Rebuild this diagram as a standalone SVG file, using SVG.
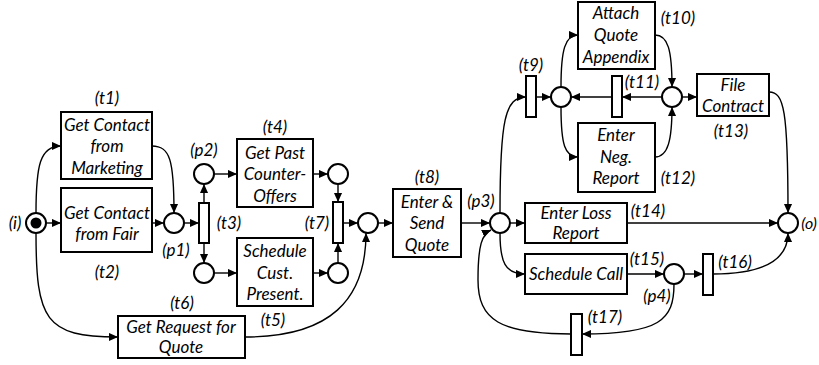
<svg xmlns="http://www.w3.org/2000/svg" width="819" height="365" viewBox="0 0 819 365">
<style>
.box{fill:#fff;stroke:#000;stroke-width:2}
.bar{fill:#fff;stroke:#000;stroke-width:2}
.pl{fill:#fff;stroke:#000;stroke-width:2}
.c{fill:none;stroke:#000;stroke-width:1.4;marker-end:url(#ah)}
text{font-family:Lato,"Open Sans","Liberation Sans",sans-serif;font-style:italic;font-size:17px;fill:#000;text-anchor:middle}
</style>
<defs>
<marker id="ah" viewBox="0 0 10 10" refX="10" refY="5" markerWidth="9" markerHeight="9" markerUnits="userSpaceOnUse" orient="auto">
<path d="M0,0.5 L10,5 L0,9.5 z" fill="#000"/>
</marker>
</defs>
<rect width="819" height="365" fill="#fff"/>
<g id="connectors">
<path class="c" d="M36,213 C36,165 40,146 61,146"/>
<path class="c" d="M46,223 L61,223"/>
<path class="c" d="M36,233 C36,320 45,337 118,337"/>
<path class="c" d="M152,146 C170,146 174,160 174,213"/>
<path class="c" d="M152,223 L164,223"/>
<path class="c" d="M184,223 L199,223"/>
<path class="c" d="M204,203 L204,184"/>
<path class="c" d="M204,243 L204,263"/>
<path class="c" d="M214,174 L237,174"/>
<path class="c" d="M214,273 L237,273"/>
<path class="c" d="M313,174 L328,174"/>
<path class="c" d="M313,273 L328,273"/>
<path class="c" d="M338,184 L338,202"/>
<path class="c" d="M338,263 L338,243"/>
<path class="c" d="M343,223 L358,223"/>
<path class="c" d="M245,337 C330,337 366,300 366,233"/>
<path class="c" d="M378,223 L393,223"/>
<path class="c" d="M461,223 L490,223"/>
<path class="c" d="M510,223 L525,223"/>
<path class="c" d="M500,213 C500,120 505,97 526,97"/>
<path class="c" d="M500,233 C500,262 505,274 525,274"/>
<path class="c" d="M536,97 L551,97"/>
<path class="c" d="M561,87 C561,50 565,35 578,35"/>
<path class="c" d="M561,107 C561,145 565,157 578,157"/>
<path class="c" d="M655,35 C668,35 672,50 672,87"/>
<path class="c" d="M655,157 C668,157 672,140 672,107"/>
<path class="c" d="M662,97 L622,97"/>
<path class="c" d="M612,97 L571,97"/>
<path class="c" d="M682,97 L697,97"/>
<path class="c" d="M769,92 C784,92 788,110 788,213"/>
<path class="c" d="M627,223 L778,223"/>
<path class="c" d="M627,274 L664,274"/>
<path class="c" d="M684,274 L703,274"/>
<path class="c" d="M713,274 C760,274 788,262 788,233"/>
<path class="c" d="M674,284 C674,320 660,334 582,334"/>
<path class="c" d="M571,334 C500,334 478,320 478,280 C478,245 482,234 491,230"/>
</g>
<g id="i"><circle class="pl" cx="36" cy="223" r="10" stroke-width="2.5"/><circle cx="36" cy="223" r="5.5" fill="#000"/><text x="15" y="229">(i)</text></g>
<g id="t1"><rect class="box" x="61" y="112" width="91" height="67"/><text x="107" y="104">(t1)</text><text x="107" y="131">Get Contact</text><text x="107" y="152">from</text><text x="107" y="174">Marketing</text></g>
<g id="t2"><rect class="box" x="61" y="188" width="91" height="64"/><text x="107" y="278">(t2)</text><text x="107" y="219">Get Contact</text><text x="107" y="240">from Fair</text></g>
<g id="p1"><circle class="pl" cx="174" cy="223" r="10"/><text x="176" y="256">(p1)</text></g>
<g id="t3"><rect class="bar" x="199" y="203" width="10" height="40"/><text x="229" y="229">(t3)</text></g>
<g id="p2"><circle class="pl" cx="204" cy="174" r="10"/><text x="204" y="156">(p2)</text></g>
<g id="p_t5in"><circle class="pl" cx="204" cy="273" r="10"/></g>
<g id="t4"><rect class="box" x="237" y="139" width="76" height="68"/><text x="275" y="133">(t4)</text><text x="275" y="159">Get Past</text><text x="275" y="180">Counter-</text><text x="275" y="202">Offers</text></g>
<g id="t5"><rect class="box" x="237" y="238" width="76" height="68"/><text x="273" y="326">(t5)</text><text x="275" y="257">Schedule</text><text x="275" y="279">Cust.</text><text x="275" y="300">Present.</text></g>
<g id="p_t4out"><circle class="pl" cx="338" cy="174" r="10"/></g>
<g id="p_t5out"><circle class="pl" cx="338" cy="273" r="10"/></g>
<g id="t7"><rect class="bar" x="333" y="202" width="10" height="41"/><text x="317" y="229">(t7)</text></g>
<g id="p_t8in"><circle class="pl" cx="368" cy="223" r="10"/></g>
<g id="t6"><rect class="box" x="118" y="316" width="127" height="42"/><text x="182" y="309">(t6)</text><text x="181" y="333">Get Request for</text><text x="181" y="353">Quote</text></g>
<g id="t8"><rect class="box" x="393" y="189" width="68" height="68"/><text x="427" y="183">(t8)</text><text x="427" y="208">Enter &amp;</text><text x="427" y="229">Send</text><text x="427" y="251">Quote</text></g>
<g id="p3"><circle class="pl" cx="500" cy="223" r="10"/><text x="481" y="207">(p3)</text></g>
<g id="t9"><rect class="bar" x="526" y="76" width="10" height="41"/><text x="531" y="71">(t9)</text></g>
<g id="p_t9out"><circle class="pl" cx="561" cy="97" r="10"/></g>
<g id="t10"><rect class="box" x="578" y="2" width="77" height="67"/><text x="678" y="24">(t10)</text><text x="616" y="19">Attach</text><text x="616" y="41">Quote</text><text x="616" y="63">Appendix</text></g>
<g id="t11"><rect class="bar" x="612" y="76" width="10" height="41"/><text x="642" y="88">(t11)</text></g>
<g id="t12"><rect class="box" x="578" y="123" width="77" height="69"/><text x="678" y="184">(t12)</text><text x="616" y="141">Enter</text><text x="616" y="163">Neg.</text><text x="616" y="184">Report</text></g>
<g id="p_t13in"><circle class="pl" cx="672" cy="97" r="10"/></g>
<g id="t13"><rect class="box" x="697" y="74" width="72" height="42"/><text x="731" y="137">(t13)</text><text x="733" y="91">File</text><text x="733" y="112">Contract</text></g>
<g id="t14"><rect class="box" x="525" y="203" width="102" height="40"/><text x="648" y="217">(t14)</text><text x="576" y="219">Enter Loss</text><text x="576" y="239">Report</text></g>
<g id="t15"><rect class="box" x="525" y="254" width="102" height="40"/><text x="647" y="265">(t15)</text><text x="576" y="280">Schedule Call</text></g>
<g id="p4"><circle class="pl" cx="674" cy="274" r="10"/><text x="657" y="302">(p4)</text></g>
<g id="t16"><rect class="bar" x="703" y="254" width="10" height="41"/><text x="735" y="268">(t16)</text></g>
<g id="t17"><rect class="bar" x="571" y="314" width="11" height="41"/><text x="605" y="323">(t17)</text></g>
<g id="o"><circle class="pl" cx="788" cy="223" r="10"/><text x="817" y="229" style="text-anchor:end;font-size:16px">(o)</text></g>
</svg>
